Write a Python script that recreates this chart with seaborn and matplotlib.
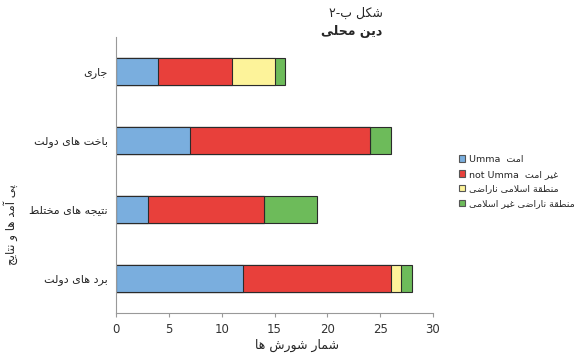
import numpy as np
import pandas as pd
import matplotlib
matplotlib.use("Agg")
import matplotlib.pyplot as plt
import seaborn as sns
from matplotlib.patches import Patch
from matplotlib.font_manager import findfont, FontProperties
from matplotlib.ft2font import FT2Font

# ---------------- data ----------------
categories = ["جاری", "باخت های دولت", "نتیجه های مختلط", "برد های دولت"]
umma = [4, 7, 3, 12]
not_umma = [7, 17, 11, 14]
islamic_region = [4, 0, 0, 1]
non_islamic_region = [1, 2, 5, 1]
xticks = [0, 5, 10, 15, 20, 25, 30]

colors = ["#7aaede", "#e8403b", "#fdf39a", "#6dbb5a"]

# ---------------- minimal Arabic/Persian shaping ----------------
_path = findfont(FontProperties(family="DejaVu Sans"))
_cmap = FT2Font(_path).get_charmap()
def _has(c):
    return ord(c) in _cmap

FORMS = {
    '\u0622': ('\uFE81', '\uFE82', None, None),
    '\u0623': ('\uFE83', '\uFE84', None, None),
    '\u0625': ('\uFE87', '\uFE88', None, None),
    '\u0627': ('\uFE8D', '\uFE8E', None, None),
    '\u0628': ('\uFE8F', '\uFE90', '\uFE91', '\uFE92'),
    '\u0629': ('\uFE93', '\uFE94', None, None),
    '\u062A': ('\uFE95', '\uFE96', '\uFE97', '\uFE98'),
    '\u062B': ('\uFE99', '\uFE9A', '\uFE9B', '\uFE9C'),
    '\u062C': ('\uFE9D', '\uFE9E', '\uFE9F', '\uFEA0'),
    '\u062D': ('\uFEA1', '\uFEA2', '\uFEA3', '\uFEA4'),
    '\u062E': ('\uFEA5', '\uFEA6', '\uFEA7', '\uFEA8'),
    '\u062F': ('\uFEA9', '\uFEAA', None, None),
    '\u0630': ('\uFEAB', '\uFEAC', None, None),
    '\u0631': ('\uFEAD', '\uFEAE', None, None),
    '\u0632': ('\uFEAF', '\uFEB0', None, None),
    '\u0633': ('\uFEB1', '\uFEB2', '\uFEB3', '\uFEB4'),
    '\u0634': ('\uFEB5', '\uFEB6', '\uFEB7', '\uFEB8'),
    '\u0635': ('\uFEB9', '\uFEBA', '\uFEBB', '\uFEBC'),
    '\u0636': ('\uFEBD', '\uFEBE', '\uFEBF', '\uFEC0'),
    '\u0637': ('\uFEC1', '\uFEC2', '\uFEC3', '\uFEC4'),
    '\u0638': ('\uFEC5', '\uFEC6', '\uFEC7', '\uFEC8'),
    '\u0639': ('\uFEC9', '\uFECA', '\uFECB', '\uFECC'),
    '\u063A': ('\uFECD', '\uFECE', '\uFECF', '\uFED0'),
    '\u0641': ('\uFED1', '\uFED2', '\uFED3', '\uFED4'),
    '\u0642': ('\uFED5', '\uFED6', '\uFED7', '\uFED8'),
    '\u0644': ('\uFEDD', '\uFEDE', '\uFEDF', '\uFEE0'),
    '\u0645': ('\uFEE1', '\uFEE2', '\uFEE3', '\uFEE4'),
    '\u0646': ('\uFEE5', '\uFEE6', '\uFEE7', '\uFEE8'),
    '\u0647': ('\uFEE9', '\uFEEA', '\uFEEB', '\uFEEC'),
    '\u0648': ('\uFEED', '\uFEEE', None, None),
}
if all(_has(c) for c in '\uFB56\uFB57\uFB58\uFB59'):
    FORMS['\u067E'] = ('\uFB56', '\uFB57', '\uFB58', '\uFB59')
else:
    FORMS['\u067E'] = FORMS['\u0628']
if all(_has(c) for c in '\uFB8E\uFB8F\uFB90\uFB91'):
    FORMS['\u06A9'] = ('\uFB8E', '\uFB8F', '\uFB90', '\uFB91')
else:
    FORMS['\u06A9'] = ('\uFED9', '\uFEDA', '\uFEDB', '\uFEDC')
if all(_has(c) for c in '\uFBFC\uFBFD\uFBFE\uFBFF'):
    FORMS['\u06CC'] = ('\uFBFC', '\uFBFD', '\uFBFE', '\uFBFF')
else:
    FORMS['\u06CC'] = ('\uFEEF', '\uFEF0', '\uFEF3', '\uFEF4')

LAM_ALEF = {'\u0627': ('\uFEFB', '\uFEFC'), '\u0622': ('\uFEF5', '\uFEF6'),
            '\u0623': ('\uFEF7', '\uFEF8'), '\u0625': ('\uFEF9', '\uFEFA')}


def _joins_fwd(c):
    return c in FORMS and FORMS[c][2] is not None


def shape(text):
    chars = list(text)
    n = len(chars)
    out = []
    i = 0
    while i < n:
        c = chars[i]
        if c not in FORMS:
            out.append(c)
            i += 1
            continue
        prev = chars[i - 1] if i > 0 else None
        jp = prev is not None and _joins_fwd(prev)
        nxt = chars[i + 1] if i + 1 < n else None
        if c == '\u0644' and nxt in LAM_ALEF:
            out.append(LAM_ALEF[nxt][1 if jp else 0])
            i += 2
            continue
        jn = _joins_fwd(c) and nxt in FORMS
        iso, fin, ini, med = FORMS[c]
        if jp and jn:
            out.append(med)
        elif jp:
            out.append(fin)
        elif jn:
            out.append(ini)
        else:
            out.append(iso)
        i += 1
    return "".join(out)


def rtl(text):
    return shape(text)[::-1]


two = '\u06F2' if _has('\u06F2') else '\u0662'

# ---------------- plot ----------------
sns.set_style("white")
plt.rcParams["font.family"] = ["DejaVu Sans"]

fig = plt.figure(figsize=(5.81, 3.62), dpi=100)
ax = fig.add_axes([116 / 581, 1 - 313 / 362, 317 / 581, 276 / 362])

cat_vis = [rtl(c) for c in categories]
c1 = np.array(umma)
c2 = c1 + np.array(not_umma)
c3 = c2 + np.array(islamic_region)
c4 = c3 + np.array(non_islamic_region)
df = pd.DataFrame({"cat": cat_vis, "c1": c1, "c2": c2, "c3": c3, "c4": c4})

for col, colr in zip(["c4", "c3", "c2", "c1"], colors[::-1]):
    sns.barplot(data=df, x=col, y="cat", orient="h", color=colr, saturation=1,
                width=0.4, edgecolor="#2b2b2b", linewidth=0.8, ax=ax, errorbar=None)

ax.set_xlim(0, 30)
ax.set_ylim(3.5, -0.5)
ax.set_xticks(xticks)
ax.set_xticklabels([str(v) for v in xticks], fontsize=8.5, color="#333333")
ax.set_yticks(range(len(categories)))
ax.set_yticklabels(cat_vis, fontsize=8)
ax.set_yticks([0.5, 1.5, 2.5], minor=True)
ax.tick_params(axis="y", which="major", length=3, color="#999999", pad=3)
ax.tick_params(axis="y", which="minor", length=4, color="#999999")
ax.tick_params(axis="x", which="major", length=3, color="#999999", bottom=True, pad=4)
for s in ["top", "right"]:
    ax.spines[s].set_visible(False)
for s in ["left", "bottom"]:
    ax.spines[s].set_color("#999999")
    ax.spines[s].set_linewidth(0.8)

ax.set_xlabel(rtl("شمار شورش ها"), fontsize=9)
ax.xaxis.set_label_coords((297 - 116) / 317, -0.095)
ax.set_ylabel(rtl("پی آمد ها و نتایج"), fontsize=8.5)
ax.yaxis.set_label_coords(-0.31, 0.32)

fig.text(356 / 581, 1 - 13 / 362, rtl("شکل ب-" + two),
         ha="center", va="center", fontsize=9)
fig.text(352 / 581, 1 - 32 / 362, rtl("دین محلی"), ha="center", va="center",
         fontsize=9, fontweight="bold")

handles = [Patch(facecolor=c, edgecolor="#555555", linewidth=0.8) for c in colors]
labels = [
    "Umma  " + rtl("امت"),
    "not Umma  " + rtl("غیر امت"),
    rtl("منطقة اسلامی ناراضی"),
    rtl("منطقة ناراضی غیر اسلامی"),
]
fig.legend(handles, labels, loc="upper left", bbox_to_anchor=(455 / 581, 1 - 151 / 362),
           frameon=False, fontsize=6.8, handlelength=0.7, handleheight=0.7,
           handletextpad=0.4, labelspacing=0.62, borderaxespad=0)

fig.savefig("out.png", dpi=100)
